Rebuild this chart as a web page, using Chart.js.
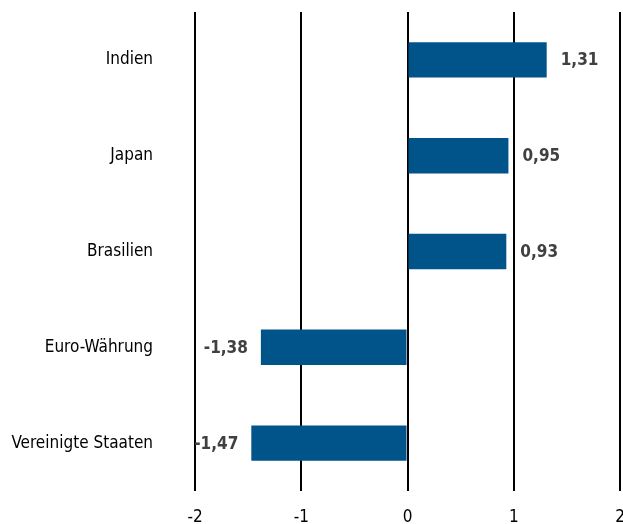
<!DOCTYPE html>
<html>
<head>
<meta charset="utf-8">
<script src="https://cdn.jsdelivr.net/npm/chart.js@4/dist/chart.umd.min.js"></script>
<style>
  html, body { margin: 0; padding: 0; background: #fff; }
  #wrap { width: 623px; height: 524px; }
</style>
</head>
<body>
<div id="wrap"><canvas id="barChart"></canvas></div>
<script>
var countries = ["Indien", "Japan", "Brasilien", "Euro-Währung", "Vereinigte Staaten"];
var values = [1.31, 0.95, 0.93, -1.38, -1.47];
var xTicks = [-2, -1, 0, 1, 2];

var FONT = "'Liberation Sans Narrow', 'Arial Narrow', 'DejaVu Sans Condensed', sans-serif";

function fmt(v) {
    return v.toFixed(2).replace('.', ',');
}

// value labels next to the bar ends
var valueLabels = {
    id: 'valueLabels',
    afterDatasetsDraw: function (chart) {
        var ctx = chart.ctx;
        var meta = chart.getDatasetMeta(0);
        ctx.save();
        ctx.font = 'bold 17px ' + FONT;
        ctx.fillStyle = '#404040';
        ctx.textBaseline = 'middle';
        meta.data.forEach(function (bar, i) {
            var v = values[i];
            if (v >= 0) {
                ctx.textAlign = 'left';
                ctx.fillText(fmt(v), bar.x + 14, bar.y + 1);
            } else {
                ctx.textAlign = 'right';
                ctx.fillText(fmt(v), bar.x - 13, bar.y + 1);
            }
        });
        ctx.restore();
    }
};

var ctx = document.getElementById("barChart").getContext('2d');
var chart = new Chart(ctx, {
    type: 'bar',
    data: {
        labels: countries,
        datasets: [{
            data: values,
            backgroundColor: '#00548A',
            borderWidth: 0,
            barPercentage: 0.37,
            categoryPercentage: 1
        }]
    },
    options: {
        indexAxis: 'y',
        responsive: true,
        maintainAspectRatio: false,
        animation: false,
        layout: { padding: { top: 12, right: 3, bottom: 0, left: 0 } },
        plugins: {
            legend: { display: false },
            tooltip: { enabled: false }
        },
        scales: {
            x: {
                min: -2,
                max: 2,
                afterBuildTicks: function (scale) {
                    scale.ticks = xTicks.map(function (t) { return { value: t }; });
                },
                afterFit: function (scale) {
                    scale.paddingLeft = 0;
                    scale.paddingRight = 0;
                    scale.height = 33;
                },
                grid: { color: '#000', lineWidth: 2, drawTicks: false },
                border: { display: false },
                ticks: {
                    padding: 16,
                    color: '#000',
                    font: { family: FONT, size: 17 },
                    callback: function (v) { return String(v); }
                }
            },
            y: {
                afterFit: function (scale) {
                    scale.width = 195;
                    scale.paddingTop = 0;
                    scale.paddingBottom = 0;
                },
                grid: { display: false, drawTicks: false },
                border: { display: false },
                ticks: {
                    padding: 42,
                    color: '#000',
                    font: { family: FONT, size: 17 }
                }
            }
        }
    },
    plugins: [valueLabels]
});
</script>
</body>
</html>
